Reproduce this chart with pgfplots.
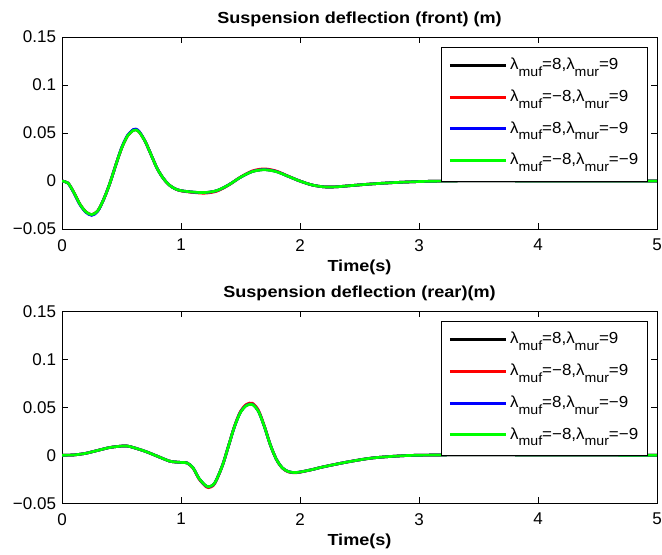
\documentclass[border=0pt]{standalone}
\usepackage{fontspec}
\setmainfont{Liberation Sans}
\usepackage{graphicx}
\usepackage{pgfplots}
\pgfplotsset{compat=1.18}
\usepackage{pgfplotstable}

\newcommand\sub[1]{\raisebox{-5pt}{\fontsize{10}{10}\selectfont #1}}
\newcommand\legtxt[1]{\scalebox{1.06}[1]{#1}}

\pgfplotstableread{
t y1 y2 y3 y4
0 0 0 0 0
0.05 -0.002 -0.002 -0.002 -0.002
0.1 -0.012 -0.012 -0.0125 -0.012
0.15 -0.024 -0.024 -0.0245 -0.024
0.2 -0.032 -0.032 -0.0325 -0.032
0.25 -0.035 -0.035 -0.0357 -0.0349
0.3 -0.031 -0.031 -0.0315 -0.031
0.35 -0.019 -0.019 -0.019 -0.019
0.4 -0.003 -0.003 -0.003 -0.003
0.45 0.016 0.016 0.016 0.016
0.5 0.034 0.034 0.0345 0.034
0.55 0.047 0.047 0.0476 0.047
0.6 0.053 0.053 0.0538 0.0528
0.62 0.0535 0.0535 0.0542 0.0532
0.65 0.051 0.051 0.0515 0.0508
0.7 0.041 0.041 0.041 0.041
0.75 0.027 0.027 0.027 0.027
0.8 0.013 0.013 0.013 0.013
0.85 0.003 0.003 0.003 0.003
0.9 -0.004 -0.004 -0.004 -0.004
0.95 -0.008 -0.008 -0.008 -0.008
1.0 -0.010 -0.0102 -0.010 -0.010
1.1 -0.0115 -0.0118 -0.0115 -0.0114
1.2 -0.012 -0.0126 -0.012 -0.0119
1.3 -0.010 -0.0106 -0.010 -0.0099
1.4 -0.004 -0.0042 -0.004 -0.004
1.5 0.004 0.0042 0.004 0.004
1.6 0.010 0.0106 0.010 0.0099
1.7 0.012 0.0127 0.012 0.0118
1.8 0.010 0.0105 0.010 0.0098
1.9 0.005 0.0052 0.005 0.005
2.0 0.000 0.000 0.000 0.000
2.1 -0.004 -0.004 -0.004 -0.004
2.2 -0.006 -0.006 -0.006 -0.006
2.3 -0.006 -0.006 -0.006 -0.006
2.4 -0.005 -0.005 -0.005 -0.005
2.6 -0.003 -0.003 -0.003 -0.003
2.8 -0.0015 -0.0015 -0.0015 -0.0015
3.0 -0.0005 -0.0005 -0.0005 -0.0005
3.2 0 0 0 0
3.5 0.0003 0.0003 0.0003 0.0003
4 0.0001 0.0001 0.0001 0.0001
5 0 0 0 0
}\front

\pgfplotstableread{
t y1 y2 y3 y4
0 0 0 0 0
0.1 0.0003 0.0003 0.0003 0.0003
0.2 0.002 0.002 0.002 0.002
0.3 0.005 0.005 0.005 0.005
0.4 0.008 0.008 0.008 0.008
0.5 0.0095 0.0095 0.0095 0.0095
0.55 0.0095 0.0095 0.0095 0.0095
0.6 0.008 0.008 0.008 0.008
0.7 0.004 0.004 0.004 0.004
0.8 -0.001 -0.001 -0.001 -0.001
0.9 -0.006 -0.006 -0.006 -0.006
0.95 -0.007 -0.007 -0.007 -0.007
1.0 -0.0075 -0.0075 -0.0075 -0.0075
1.05 -0.008 -0.008 -0.008 -0.008
1.1 -0.013 -0.0132 -0.013 -0.013
1.15 -0.024 -0.0245 -0.024 -0.024
1.2 -0.031 -0.0317 -0.031 -0.0308
1.23 -0.033 -0.0338 -0.033 -0.0328
1.27 -0.031 -0.0317 -0.031 -0.0308
1.3 -0.025 -0.0255 -0.025 -0.025
1.35 -0.010 -0.010 -0.010 -0.010
1.4 0.010 0.010 0.010 0.010
1.45 0.030 0.0305 0.030 0.030
1.5 0.045 0.0458 0.045 0.0447
1.55 0.052 0.0530 0.052 0.0517
1.6 0.053 0.0541 0.053 0.0527
1.65 0.046 0.0470 0.046 0.0458
1.7 0.030 0.0306 0.030 0.030
1.75 0.011 0.011 0.011 0.011
1.8 -0.004 -0.004 -0.004 -0.004
1.85 -0.013 -0.0133 -0.013 -0.013
1.9 -0.017 -0.0173 -0.017 -0.017
1.95 -0.018 -0.0183 -0.018 -0.018
2.0 -0.0175 -0.0177 -0.0175 -0.0175
2.1 -0.015 -0.015 -0.015 -0.015
2.2 -0.012 -0.012 -0.012 -0.012
2.4 -0.007 -0.007 -0.007 -0.007
2.6 -0.003 -0.003 -0.003 -0.003
2.8 -0.001 -0.001 -0.001 -0.001
3.0 0 0 0 0
3.5 0.0005 0.0005 0.0005 0.0005
4 0.0002 0.0002 0.0002 0.0002
5 0 0 0 0
}\rear

\pgfplotsset{
  myaxis/.style={
    scale only axis,
    width=446pt, height=144pt,
    xmin=0, xmax=5, ymin=-0.05, ymax=0.15,
    xtick={0,1,2,3,4,5},
    xticklabels={0,1,2,3,4,5},
    ytick={-0.05,0,0.05,0.1,0.15},
    yticklabels={−0.05,0,0.05,0.1,0.15},
    tick label style={font=\fontsize{12.75}{13}\selectfont},
    xticklabel style={yshift=-4pt},
    yticklabel style={xshift=-1pt},
    tick align=inside,
    major tick length=4.5pt,
    axis line style={line width=0.6pt},
    every tick/.style={black, line width=0.5pt},
    title style={at={(axis description cs:0.5,1)}, anchor=base, yshift=4.5pt,
      font=\bfseries\fontsize{12}{13}\selectfont},
    xlabel style={at={(axis description cs:0.5,0)}, anchor=base, yshift=-32pt,
      font=\bfseries\fontsize{12}{13}\selectfont},
    xlabel={\scalebox{1.13}[1]{Time(s)}},
    legend image code/.code={\draw[#1, line width=2.2pt] (0pt,3.2pt) -- (42pt,3.2pt);},
    legend style={at={(axis description cs:1,1)}, anchor=north east,
      xshift=-6.75pt, yshift=-7.5pt,
      font=\fontsize{12}{12}\selectfont, draw=black, line width=0.6pt,
      nodes={inner xsep=2pt, inner ysep=0pt, text height=12.7pt, text depth=8.55pt},
      cells={anchor=base west},
      row sep=2.55pt, inner xsep=5pt, inner ysep=4pt},
    every axis plot/.append style={line width=2pt, smooth},
  }
}

\begin{document}
\begin{tikzpicture}
\begin{axis}[myaxis, name=top, title={\scalebox{1.13}[1]{Suspension deflection (front) (m)}}]
\addplot[black] table[x=t,y=y1] {\front};
\addplot[red] table[x=t,y=y2] {\front};
\addplot[blue] table[x=t,y=y3] {\front};
\addplot[green] table[x=t,y=y4] {\front};
\legend{{\legtxt{λ\sub{muf}=8,λ\sub{mur}=9}},
        {\legtxt{λ\sub{muf}=−8,λ\sub{mur}=9}},
        {\legtxt{λ\sub{muf}=8,λ\sub{mur}=−9}},
        {\legtxt{λ\sub{muf}=−8,λ\sub{mur}=−9}}}
\end{axis}
\begin{axis}[myaxis, name=bot, yshift=-205.5pt, title={\scalebox{1.13}[1]{Suspension deflection (rear)(m)}}]
\addplot[black] table[x=t,y=y1] {\rear};
\addplot[red] table[x=t,y=y2] {\rear};
\addplot[blue] table[x=t,y=y3] {\rear};
\addplot[green] table[x=t,y=y4] {\rear};
\legend{{\legtxt{λ\sub{muf}=8,λ\sub{mur}=9}},
        {\legtxt{λ\sub{muf}=−8,λ\sub{mur}=9}},
        {\legtxt{λ\sub{muf}=8,λ\sub{mur}=−9}},
        {\legtxt{λ\sub{muf}=−8,λ\sub{mur}=−9}}}
\end{axis}
\pgfresetboundingbox
\path[use as bounding box] ([xshift=-46.5pt,yshift=27.75pt]top.north west) rectangle ([xshift=3.75pt,yshift=-38.25pt]bot.south east);
\end{tikzpicture}
\end{document}
